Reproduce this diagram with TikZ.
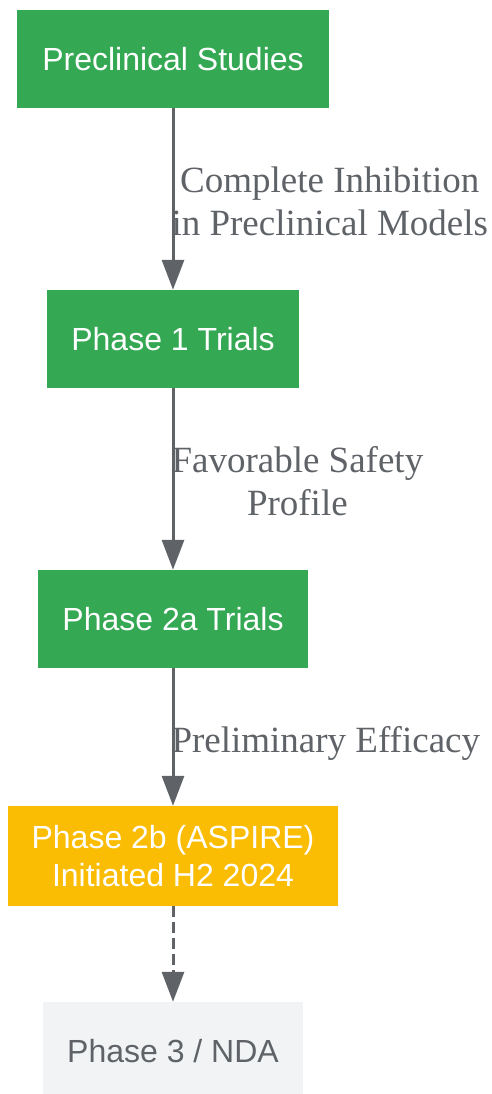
\documentclass[tikz,border=0pt]{standalone}
\usepackage{fontspec}
\setmainfont{Liberation Serif}
\setsansfont{Liberation Sans}
\usetikzlibrary{arrows.meta}
\definecolor{stepgreen}{rgb}{0.203922, 0.658824, 0.325490}
\definecolor{stepyellow}{rgb}{0.984314, 0.737255, 0.015686}
\definecolor{stepgrey}{rgb}{0.372549, 0.388235, 0.407843}
\definecolor{steplight}{rgb}{0.945098, 0.952941, 0.956863}
\tikzset{phase/.style={rectangle, inner xsep=24pt, inner ysep=0pt, minimum height=98pt,
        align=center, text=white, font=\sffamily\fontsize{32}{38}\selectfont}}
\tikzset{edge/.style={line width=3pt, color=stepgrey, -{Triangle[length=30pt, width=22pt]}}}
\tikzset{elabel/.style={inner sep=0pt, anchor=west, xshift=-3pt, yshift=-2pt, align=center,
        text=stepgrey, font=\fontsize{37}{43}\selectfont}}

\begin{document}
\begin{tikzpicture}[x=1pt, y=-1pt]
        \useasboundingbox (0,0) rectangle (491,1094);

        \node[phase, fill=stepgreen, inner xsep=25pt] (Pre) at (173,  59) {Preclinical Studies};
        \node[phase, fill=stepgreen] (P1)  at (173, 339) {Phase 1 Trials};
        \node[phase, fill=stepgreen] (P2a) at (173, 619) {Phase 2a Trials};
        \node[phase, fill=stepyellow, minimum height=100pt] (P2b) at (173, 856)
        {Phase 2b (ASPIRE)\\Initiated H2 2024};
        \node[phase, fill=steplight, text=stepgrey] (P3) at (173, 1051) {Phase 3 / NDA};

        \draw [edge] (Pre) -- node[elabel] {Complete Inhibition\\in Preclinical Models} (P1);
        \draw [edge] (P1) -- node[elabel] {Favorable Safety\\Profile} (P2a);
        \draw [edge] (P2a) -- node[elabel, yshift=-4pt] {Preliminary Efficacy} (P2b);
        \draw [edge, dash pattern=on 11pt off 5pt] (P2b) -- (P3);
    \end{tikzpicture}
\end{document}
